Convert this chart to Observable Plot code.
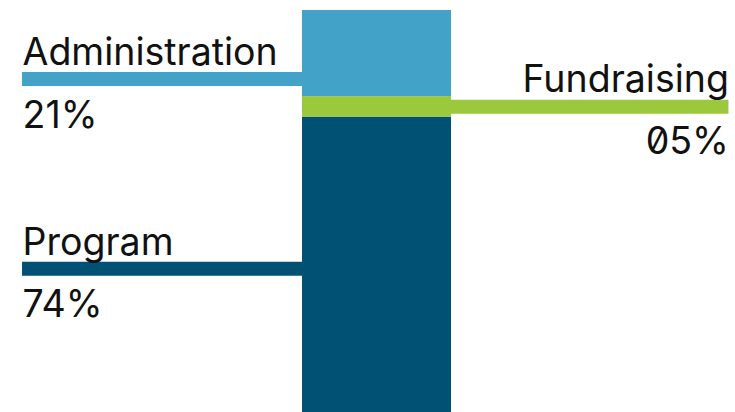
<!DOCTYPE html>
<html>
<head>
<meta charset="utf-8">
<script src="https://cdn.jsdelivr.net/npm/d3@7"></script>
<script src="https://cdn.jsdelivr.net/npm/@observablehq/plot@0.6"></script>
<style>
  html, body { margin: 0; padding: 0; background: #fff; }
</style>
</head>
<body>
<div id="chart"></div>
<script>
// Data (stack order bottom -> top)
const categories = ["Program", "Fundraising", "Administration"];
const values = [74, 5, 21];
const percentLabels = ["74%", "05%", "21%"];
const colors = ["#005174", "#9aca3c", "#43a2c7"];
const sides = ["left", "right", "left"];

// Layout (bar-width units on x; percent units on y)
const leftEdge = -1.879, rightEdge = 2.862;
const adminAnchor = 83.3;

const rows = categories.map((name, i) => ({name, value: values[i], pct: percentLabels[i], side: sides[i]}));
let acc = 0;
rows.forEach(r => { r.lo = acc; acc += r.value; r.hi = acc; r.anchor = r.name === "Administration" ? adminAnchor : (r.lo + r.hi) / 2; });

const left = rows.filter(r => r.side === "left");
const right = rows.filter(r => r.side === "right");
const font = "Inter, 'Noto Sans', sans-serif";
const fs = 37.5;

const plot = Plot.plot({
  width: 735,
  height: 412,
  margin: 0,
  style: {fontFamily: font, background: "#fff", color: "#111"},
  x: {domain: [0, 1], range: [302, 451], axis: null},
  y: {domain: [0, 100], range: [420, 10], axis: null},
  color: {domain: categories, range: colors},
  marks: [
    Plot.rectY(rows, {x1: 0, x2: 1, y: "value", fill: "name"}),
    Plot.ruleY(left, {y: "anchor", x1: leftEdge, x2: 0, stroke: "name", strokeWidth: 14}),
    Plot.ruleY(right, {y: "anchor", x1: 1, x2: rightEdge, stroke: "name", strokeWidth: 14}),
    Plot.text(left, {x: leftEdge, y: "anchor", text: "name", textAnchor: "start", lineAnchor: "bottom", dy: -13.5, fontSize: fs, fill: "#111"}),
    Plot.text(left, {x: leftEdge, y: "anchor", text: "pct", textAnchor: "start", lineAnchor: "top", dy: 22, fontSize: fs, fill: "#111"}),
    Plot.text(right, {x: rightEdge, y: "anchor", text: "name", textAnchor: "end", lineAnchor: "bottom", dy: -14.5, fontSize: fs, fill: "#111"}),
    Plot.text(right, {x: rightEdge, y: "anchor", text: "pct", textAnchor: "end", lineAnchor: "top", dy: 21, fontSize: fs, fill: "#111"})
  ]
});
// slashed zero only where a zero appears
d3.select(plot).selectAll("text").filter(function() { return this.textContent.includes("0"); })
  .style("font-feature-settings", '"zero" 1');
document.getElementById("chart").appendChild(plot);
</script>
</body>
</html>
